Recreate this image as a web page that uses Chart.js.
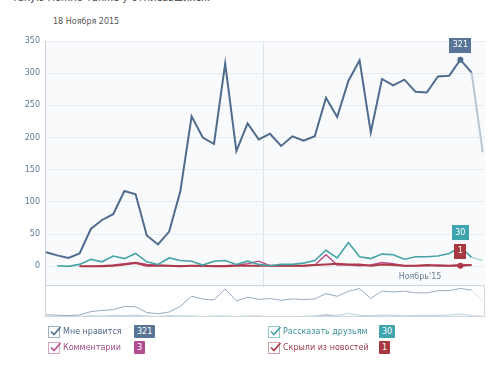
<!DOCTYPE html>
<html lang="ru">
<head>
<meta charset="utf-8">
<title>Статистика записи</title>
<script src="https://cdn.jsdelivr.net/npm/chart.js@4/dist/chart.umd.min.js"></script>
<style>
  html, body { margin: 0; padding: 0; background: #fff; }
  body { width: 500px; height: 381px; position: relative; overflow: hidden; font-family: "DejaVu Sans", sans-serif; }
  #top-text { position: absolute; left: 12px; top: -8px; font-size: 10px; color: #444; white-space: nowrap; }
  #date { position: absolute; left: 53px; top: 17px; font-size: 8px; color: #555; }
  #main-wrap { position: absolute; left: 0; top: 0; width: 500px; height: 297px; }
  #nav-wrap { position: absolute; left: 0; top: 285px; width: 500px; height: 32px; }
  .legend-item { position: absolute; font-size: 8px; height: 12px; line-height: 12px; white-space: nowrap; }
  .legend-item .box { position: absolute; left: 0; top: 0; width: 10px; height: 10px; border: 1px solid; background: #fff; }
  .legend-item .box svg { position: absolute; left: 0; top: -2px; }
  .legend-item .label { position: absolute; left: 15px; top: 0; }
  .badge { position: absolute; top: -1px; height: 13px; line-height: 13px; padding: 0 3px; color: #fff; font-size: 8px; border-radius: 1px; }
</style>
</head>
<body>
<div id="top-text">такую можно также у отписавшихся.</div>
<div id="date">18 Ноября 2015</div>
<div id="main-wrap"><canvas id="mainChart" width="500" height="297"></canvas></div>
<div id="nav-wrap"><canvas id="navChart" width="500" height="32"></canvas></div>
<div id="legend"></div>

<script>
// --- ДАННЫЕ (по дням) ---
const days = Array.from({ length: 40 }, (_, i) => i);
const likes = [22, 17, 13, 20, 58, 72, 81, 117, 112, 48, 34, 54, 117, 233, 200, 190, 315, 179, 222, 197,
               206, 187, 202, 195, 202, 262, 232, 288, 320, 208, 291, 281, 290, 271, 270, 295, 296, 321, 301, 177];
const shares = [null, 1, 0, 3, 11, 7, 16, 12, 20, 7, 3, 13, 9, 8, 2, 8, 9, 3, 8, 3,
                1, 3, 3, 5, 9, 25, 13, 37, 15, 12, 19, 18, 11, 15, 15, 16, 20, 30, 14, 9];
const comments = [null, null, null, 0, 0, 1, 2, 4, 6, 3, 2, 1, 1, 1, 0, 1, 1, 2, 4, 8,
                  1, 1, 1, 1, 2, 18, 2, 2, 1, 2, 6, 4, 1, 1, 1, 2, 1, 3, 2, null];
const hidden = [null, null, null, 0, 0, 0, 1, 3, 5, 1, 1, 1, 0, 1, 1, 0, 0, 1, 1, 1,
                1, 1, 1, 1, 2, 3, 4, 3, 3, 1, 3, 2, 1, 1, 2, 1, 1, 1, 2, null];
const yTicks = [0, 50, 100, 150, 200, 250, 300, 350];
const monthLabel = "Ноябрь'15";
const monthStart = 19.35;   // граница месяца
const activeDay = 37;       // выбранный день (18 ноября)

const series = [
  { name: 'Мне нравится', data: likes, color: '#4f6c8e', faded: '#b9c6d4', width: 2, nav: '#97a9bc', badge: '#587497', check: '#9fb0c3', text: '#4f6a89' },
  { name: 'Рассказать друзьям', data: shares, color: '#45a3a6', faded: '#b6dadb', width: 1.6, nav: '#b3d6d7', badge: '#3ea4ae', check: '#94c9cc', text: '#3b9298' },
  { name: 'Скрыли из новостей', data: hidden, color: '#ad3a47', faded: '#dcb0b5', width: 2, nav: '#d0a9ad', badge: '#a8383f', check: '#d1a0a5', text: '#9a3a45' },
  { name: 'Комментарии', data: comments, color: '#bb4d8c', faded: '#e2b8d0', width: 1.4, nav: '#d9b1c8', badge: '#b24d92', check: '#d6a3c4', text: '#a14e86' }
];

// --- ГРАФИК ---
const font = { family: '"DejaVu Sans", sans-serif', size: 8 };

// фон области и линия начала месяца
const plotBg = {
  id: 'plotBg',
  beforeDatasetsDraw(chart) {
    const a = chart.chartArea;
    const ctx = chart.ctx;
    ctx.save();
    const mx = Math.round(chart.scales.x.getPixelForValue(monthStart)) + 0.5;
    ctx.strokeStyle = '#dfe4ea';
    ctx.lineWidth = 1;
    ctx.beginPath();
    ctx.moveTo(mx, a.top);
    ctx.lineTo(mx, a.bottom);
    ctx.stroke();
    ctx.restore();
  },
  beforeDraw(chart) {
    const a = chart.chartArea;
    const ctx = chart.ctx;
    ctx.save();
    ctx.fillStyle = '#f9fafb';
    ctx.fillRect(a.left, a.top, a.right - a.left, a.bottom - a.top);
    ctx.restore();
  }
};

// подпись месяца и значки выбранного дня
const overlay = {
  id: 'overlay',
  afterDatasetsDraw(chart) {
    const ctx = chart.ctx;
    const x = chart.scales.x;
    const y = chart.scales.y;
    ctx.save();
    ctx.font = '8px "DejaVu Sans", sans-serif';
    ctx.fillStyle = '#6b809a';
    ctx.textAlign = 'center';
    ctx.textBaseline = 'middle';
    ctx.fillText(monthLabel, x.getPixelForValue(33.4), y.bottom - 10);

    [0, 1, 2].forEach(i => {
      const s = series[i];
      const v = s.data[activeDay];
      const px = x.getPixelForValue(activeDay);
      const py = y.getPixelForValue(v);
      const label = String(v);
      const w = ctx.measureText(label).width + 7;
      const h = 15;
      ctx.fillStyle = s.badge;
      ctx.fillRect(Math.round(px - w / 2), Math.round(py - 7 - h), Math.round(w), h);
      ctx.fillStyle = '#fff';
      ctx.fillText(label, px, py - 7 - h / 2);
    });
    ctx.restore();
  }
};

const mainChart = new Chart(document.getElementById('mainChart'), {
  type: 'line',
  data: {
    labels: days,
    datasets: series.map(s => ({
      label: s.name,
      data: s.data,
      borderColor: s.color,
      backgroundColor: s.color,
      borderWidth: s.width,
      tension: 0,
      pointRadius: ctx => (ctx.dataIndex === activeDay && (s.data === likes || s.data === hidden)) ? 3 : 0,
      pointBorderWidth: 0,
      segment: {
        borderColor: ctx => ctx.p1DataIndex === 39 ? s.faded : undefined
      }
    }))
  },
  options: {
    responsive: false,
    animation: false,
    events: [],
    layout: { padding: { left: 0, top: 41, right: 15, bottom: 0 } },
    plugins: { legend: { display: false }, tooltip: { enabled: false } },
    scales: {
      x: { type: 'linear', min: -0.09, max: 39.2, display: false },
      y: {
        min: -32.4,
        max: 350,
        afterBuildTicks: s => { s.ticks = yTicks.map(v => ({ value: v })); },
        afterFit: s => { s.width = 45; },
        ticks: { color: '#5f7a98', font: font, padding: 5 },
        grid: { color: '#e8ebf0', drawTicks: false },
        border: { color: '#c9d3dd' }
      }
    }
  },
  plugins: [plotBg, overlay]
});

// --- НАВИГАТОР ---
const navFrame = {
  id: 'navFrame',
  afterDraw(chart) {
    const a = chart.chartArea;
    const ctx = chart.ctx;
    ctx.save();
    ctx.strokeStyle = '#cfd7e0';
    ctx.lineWidth = 1;
    ctx.strokeRect(a.left + 0.5, a.top + 0.5, a.right - a.left - 1, a.bottom - a.top - 1);
    ctx.restore();
  }
};

const navChart = new Chart(document.getElementById('navChart'), {
  type: 'line',
  data: {
    labels: days,
    datasets: series.map(s => ({
      data: s.data,
      borderColor: s.nav,
      borderWidth: 1,
      pointRadius: 0,
      tension: 0,
      segment: {
        borderColor: ctx => ctx.p1DataIndex === 39 ? '#d8dfe6' : undefined
      }
    }))
  },
  options: {
    responsive: false,
    animation: false,
    events: [],
    layout: { padding: { left: 45, top: 0, right: 15, bottom: 0 } },
    plugins: { legend: { display: false }, tooltip: { enabled: false } },
    scales: {
      x: { type: 'linear', min: -0.09, max: 39.2, display: false },
      y: { min: -3, max: 360, display: false }
    }
  },
  plugins: [navFrame]
});

// --- ЛЕГЕНДА ---
const legend = document.getElementById('legend');
const legendPos = [
  { left: 48, top: 326 },  // Мне нравится
  { left: 268, top: 326 }, // Рассказать друзьям
  { left: 268, top: 342 }, // Скрыли из новостей
  { left: 48, top: 342 }   // Комментарии
];
const badgeLeft = { 48: 86, 268: 111 };

series.forEach((s, i) => {
  const pos = legendPos[i];
  const value = s.data[activeDay];
  const item = document.createElement('div');
  item.className = 'legend-item';
  item.style.left = pos.left + 'px';
  item.style.top = pos.top + 'px';
  item.innerHTML = `
    <div class="box" style="border-color:${s.check}">
      <svg width="13" height="12" viewBox="0 0 13 12"><path d="M2 6.5 L5 9.5 L11.5 2" fill="none" stroke="${s.color}" stroke-width="1.6"/></svg>
    </div>
    <span class="label" style="color:${s.text}">${s.name}</span>
    <span class="badge" style="left:${badgeLeft[pos.left]}px;background:${s.badge}">${value}</span>
  `;
  legend.appendChild(item);
});
</script>
</body>
</html>
